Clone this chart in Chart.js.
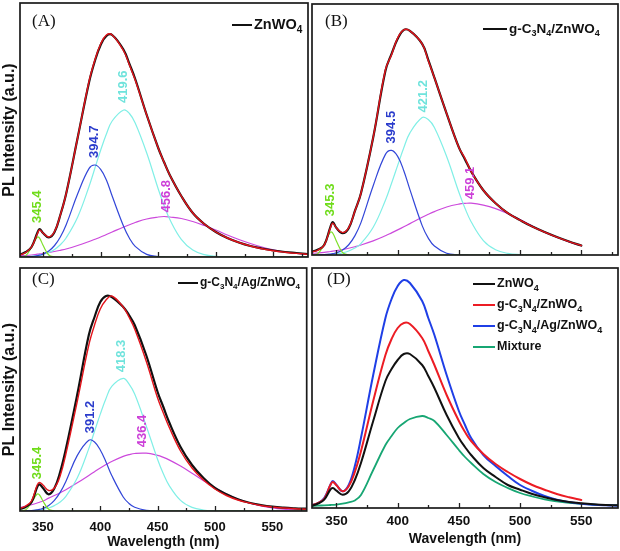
<!DOCTYPE html>
<html><head><meta charset="utf-8">
<script src="https://cdn.jsdelivr.net/npm/chart.js@4.4.1/dist/chart.umd.min.js"></script>
<style>
html,body{margin:0;padding:0;background:#fff;width:620px;height:551px;overflow:hidden}
.p{position:absolute}
canvas{display:block}
</style></head><body>
<div class="p" style="left:0;top:0;width:310px;height:262px"><canvas id="cA" width="310" height="262"></canvas></div>
<div class="p" style="left:310px;top:0;width:310px;height:262px"><canvas id="cB" width="310" height="262"></canvas></div>
<div class="p" style="left:0;top:262px;width:310px;height:289px"><canvas id="cC" width="310" height="289"></canvas></div>
<div class="p" style="left:310px;top:262px;width:310px;height:289px"><canvas id="cD" width="310" height="289"></canvas></div>
<script>
// ---------- data ----------
const wavelengths = [330,335,340,345,347,350,355,360,365,370,380,390,395,400,405,410,420,425,430,440,450,455,460,470,480,490,500,510,520,530,540,550,560,570,580];

// Panel A : ZnWO4
const aData = [2.5,5,10,24,28,24,19.5,25,42,63,119,175,196,212,221,222,207,193,178,142,109,95,82,61,44,33,25,19,14.5,11,8.5,6.5,5,4,3];
const aFit  = [2,4.5,10,23,27,24,20,25.5,42,63,119,176,197,213,222,222,206,192,177,142,109,95,82,61,44,33,25,19,14.5,11,8.3,6.3,4.8,3.6,2.7];
const aGreen = [0,1.4,9.8,20,18.8,11.8,2,0.2,0,0,0,0,0,0,0,0,0,0,0,0,0,0,0,0,0,0,0,0,0,0,0,0,0,0,0];
const aBlue = [0.1,0.2,0.5,1.3,1.8,2.9,6,11.5,20,32,63,88.6,92,87.7,77,61,30.5,18.8,10.6,2.6,0.4,0.1,0,0,0,0,0,0,0,0,0,0,0,0,0];
const aCyan = [0.2,0.4,0.75,1.4,1.8,2.6,4.5,7.6,12.3,19,39.8,70.8,88.8,106.7,123,136,147,143.5,134,104,68,51.7,37.7,17.7,7,2.4,0.7,0.2,0,0,0,0,0,0,0];
const aMag  = [1.2,1.5,2,2.8,3.1,3.5,4.5,5.5,6.7,8,11.5,15.5,17.7,20,22.5,25,30,32.3,34.5,38,40,40.5,40,38.5,35.5,31.5,27,22,17.5,13.5,10,7.2,5,3.5,2.3];
const peaksA = [345.4, 394.7, 419.6, 456.8];

// Panel B : g-C3N4/ZnWO4
const bData = [3.3,5.5,10,28,33,27,22,27,44,62,118,185,202,217,226,225,212,196,178,142,108,96,84,65,52,42,35,28.5,23,18,13.5,9.5,null,null,null];
const bFit  = [3,5,10,27,32,27,22.5,27.5,44,62,118,186,201,218,226,225,212,195,178,142,108,97,84,65,52,42,35,28.5,23,18,13.5,9.5,null,null,null];
const bGreen = [0,1.6,11,23,21.8,13.8,2.4,0.2,0,0,0,0,0,0,0,0,0,0,0,0,0,0,0,0,0,0,0,0,0,0,0,0,null,null,null];
const bBlue = [0,0.1,0.3,0.9,1.3,2.2,5,10.3,19.2,32.5,69.6,101,105,99,84.6,65.6,29.5,17,9,1.8,0.25,0.1,0,0,0,0,0,0,0,0,0,0,null,null,null];
const bCyan = [0.06,0.1,0.27,0.57,0.76,1.15,2.2,4,7,11.5,27.8,55,72,90,107.6,122.6,138,136,128,98.9,63,46.9,33.4,14.5,5.2,1.6,0.4,0.1,0,0,0,0,null,null,null];
const bMag  = [1.6,2.1,2.7,3.5,3.8,4.4,5.5,6.8,8.3,10,14.2,19.3,22.2,25.2,28.3,31.5,37.9,40.9,43.6,48.2,51.1,51.8,52,50,46.5,41.5,35.5,29,23,17.8,13.2,9.3,null,null,null];
const peaksB = [345.3, 394.5, 421.2, 459.1];

// Panel C : g-C3N4/Ag/ZnWO4
const cData = [2,4,8.7,24,26.7,23,16.7,22.7,39,62,117,176,194,209,215,214,204,196,186,156,119,104,89,64,46,33,23,16.7,11.7,8.3,6,4.3,3.3,2.7,2.3];
const cFit  = [2.5,5,10,26,28.5,26,20.5,23,35,57,110,166,186,202,211,215,204,194,182,150,113,98,84,60,43,31,22,15.5,11,8,5.5,4,3,2.3,1.8];
const cGreen = [0,1.2,8.3,17,16,10,1.7,0.2,0,0,0,0,0,0,0,0,0,0,0,0,0,0,0,0,0,0,0,0,0,0,0,0,0,0,0];
const cBlue = [0,0.15,0.42,1.1,1.55,2.6,5.5,10.6,18.6,29.6,55.6,70.8,69,61,49,35.5,14,7.6,3.7,0.7,0.1,0,0,0,0,0,0,0,0,0,0,0,0,0,0];
const cCyan = [0.1,0.2,0.4,0.8,1.1,1.6,3,5.4,9,14.7,33.2,62.4,79.7,96.9,112.5,124.6,132.7,127.1,116.9,85.3,51.5,37.2,25.7,10.6,3.6,1,0.25,0.05,0,0,0,0,0,0,0];
const cMag  = [3.5,4.8,6.3,8,8.8,10,12.9,15.5,18.3,21.3,28.2,35.6,39.3,43,46.4,49.5,54.6,56.3,57.5,57.8,55.6,53.6,51.1,44.9,37.7,30.3,23.2,17,11.9,8,5.1,3.1,1.8,1,0.5];
const peaksC = [345.4, 391.2, 418.3, 436.4];

// Panel D : comparison
const dZn  = [2.3,4.5,8.3,18.3,20,17.3,13.3,16.7,28,45,87,127,139,148,154,154,143,132,120,93,70,61,53,40,31,23,18.3,14,10.7,8,6,4.7,3.7,3,2.7];
const dCN  = [2.7,5,9.3,23,26,22.7,16.7,21.7,36,56.7,107,153,169,180,185,184,170,157,143,113,87,76,67,54,44,36,29,23,18.3,14,10.7,8,null,null,null];
const dAg  = [2.7,5,10,23,27,23,16.7,23,42,70,133,190,209,222,228,225,207,190,173,133,97,83,70,53,42,32,23,17,12,8.3,6,4.3,3.3,2.7,2.3];
const dMix = [2,2.3,2.7,3,3.1,3.3,4.3,5.7,7.5,13,38,63,72,80,85,89,92,90,87,73,58,51,45,34,26,20,15,11.5,8.7,6.7,5.2,4.1,3.4,3,2.7];
const legendD = ['ZnWO4','g-C3N4/ZnWO4','g-C3N4/Ag/ZnWO4','Mixture'];

const xTickValues = [350,375,400,425,450,475,500,525,550,575];
const xTickLabels = ['350','400','450','500','550'];
const yTitle = 'PL Intensity (a.u.)';
const xTitle = 'Wavelength (nm)';

// ---------- helpers ----------
const SANS = '"Liberation Sans", Arial, Helvetica, sans-serif';
const SERIF = '"Liberation Serif", "Times New Roman", serif';
const COL = {black:'#111111', red:'#e3141b', green:'#7ee02a', blue:'#3246d8', cyan:'#80efe6', mag:'#cc49dc',
             dRed:'#ec1c24', dBlue:'#1f3fe6', dGreen:'#17a673'};
const LABCOL = {green:'#6fdc1a', blue:'#2b3ccc', cyan:'#6fe3dc', mag:'#cc40d8'};

const series = arr => wavelengths.map((w,i) => ({x:w, y:arr[i]}));
const ds = (arr, color, width) => ({data: series(arr), borderColor: color, borderWidth: width, pointRadius: 0, fill:false, tension:0.4, spanGaps:false});

function chemRuns(text){
  const runs=[];
  for(let i=0;i<text.length;i++){
    const ch=text[i];
    const sub=/\d/.test(ch) && i>0 && /[A-Za-z]/.test(text[i-1]);
    const last=runs[runs.length-1];
    if(last && last.sub===sub) last.t+=ch; else runs.push({t:ch, sub});
  }
  return runs;
}
function drawChem(ctx, text, x, y, size, color){
  ctx.fillStyle=color; ctx.textAlign='left'; ctx.textBaseline='middle';
  let cx=x;
  chemRuns(text).forEach(r=>{
    if(r.sub){ ctx.font=`bold ${Math.round(size*0.7)}px ${SANS}`; ctx.fillText(r.t,cx,y+size*0.33); }
    else { ctx.font=`bold ${size}px ${SANS}`; ctx.fillText(r.t,cx,y); }
    cx+=ctx.measureText(r.t).width;
  });
}
const isMajor = v => xTickLabels.includes(String(Math.round(v)));

function panelPlugin(cfg){
  return {
    id:'panel'+cfg.tag,
    afterDatasetsDraw(chart){
      const {ctx, scales:{x,y}} = chart;
      ctx.save();
      (cfg.peaks||[]).forEach(p=>{
        const d = chart.data.datasets[p.anchor].data;
        let best=0;
        d.forEach(pt=>{ if(pt.y!=null && Math.abs(pt.x-p.wl)<=8 && pt.y>best) best=pt.y; });
        const px=x.getPixelForValue(p.wl), py=y.getPixelForValue(best)-p.gap;
        ctx.save(); ctx.translate(px,py); ctx.rotate(-Math.PI/2);
        ctx.font=`bold 13px ${SANS}`; ctx.fillStyle=p.color; ctx.textAlign='left'; ctx.textBaseline='middle';
        ctx.fillText(p.wl.toFixed(1),0,0); ctx.restore();
      });
      ctx.restore();
    },
    afterDraw(chart){
      const {ctx, chartArea:ca, scales:{x}} = chart;
      ctx.save();
      // inward tick marks
      ctx.strokeStyle='#222'; ctx.lineWidth=1.3;
      x.ticks.forEach(t=>{
        const px=Math.round(x.getPixelForValue(t.value))+0.5;
        const len = isMajor(t.value)?5:3;
        ctx.beginPath(); ctx.moveTo(px,ca.bottom); ctx.lineTo(px,ca.bottom-len); ctx.stroke();
      });
      // frame
      ctx.lineWidth=1.7; ctx.strokeStyle='#1a1a1a';
      ctx.strokeRect(ca.left, ca.top, ca.right-ca.left, ca.bottom-ca.top);
      // panel letter
      ctx.font=`17px ${SERIF}`; ctx.fillStyle='#111'; ctx.textAlign='left'; ctx.textBaseline='middle';
      ctx.fillText(cfg.letter, ca.left+cfg.letterPos[0], ca.top+cfg.letterPos[1]);
      // legend
      cfg.legend.forEach((it,i)=>{
        const lx=ca.left+cfg.legendPos[0], ly=ca.top+cfg.legendPos[1]+i*cfg.legendStep;
        ctx.strokeStyle=it.color; ctx.lineWidth=2;
        ctx.beginPath(); ctx.moveTo(lx,ly); ctx.lineTo(lx+cfg.legendLen,ly); ctx.stroke();
        drawChem(ctx, it.text, lx+cfg.legendLen+2, ly, cfg.legendSize, '#111');
      });
      ctx.restore();
    }
  };
}

function makeChart(id, cfg){
  const hasYTitle = !!cfg.yTitle;
  new Chart(document.getElementById(id), {
    type:'line',
    data:{datasets:cfg.datasets},
    options:{
      responsive:false, animation:false, devicePixelRatio:1,
      layout:{padding:cfg.padding},
      plugins:{legend:{display:false}, tooltip:{enabled:false}},
      elements:{point:{radius:0}, line:{borderJoinStyle:'round', borderCapStyle:'round'}},
      scales:{
        x:{type:'linear', min:330, max:580,
           afterBuildTicks:s=>{ s.ticks = xTickValues.map(v=>({value:v})); },
           grid:{display:false, drawTicks:false},
           border:{display:false},
           ticks:{display:cfg.xLabels, autoSkip:false, maxRotation:0, minRotation:0,
                  padding:cfg.tickPad||0, color:'#111',
                  font:{family:SANS, size:cfg.tickSize||12, weight:'bold'},
                  callback:(v)=> isMajor(v) ? String(Math.round(v)) : ''},
           title:{display:cfg.xLabels, text:xTitle, color:'#111',
                  font:{family:SANS, size:14, weight:'bold'}, padding:{top:0,bottom:cfg.titlePad||0}},
           afterFit:s=>{ s.height=cfg.xHeight; }},
        y:{type:'linear', min:0, max:cfg.yMax, display:hasYTitle,
           grid:{display:false, drawTicks:false}, border:{display:false},
           ticks:{display:false},
           title:{display:hasYTitle, text:yTitle, color:'#111',
                  font:{family:SANS, size:16, weight:'bold'}, padding:{top:0,bottom:0}},
           afterFit:s=>{ s.width=cfg.yWidth||0; }}
      }
    },
    plugins:[panelPlugin(cfg)]
  });
}

const fitSets = (data, fit, g, b, c, m) => [
  ds(fit, COL.red, 1.4), ds(data, COL.black, 2.2),
  ds(g, COL.green, 1.2), ds(b, COL.blue, 1.2), ds(c, COL.cyan, 1.2), ds(m, COL.mag, 1.2)];
const peakSpecs = (arr, gaps) => [
  {wl:arr[0], anchor:1, color:LABCOL.green, gap:gaps[0]},
  {wl:arr[1], anchor:3, color:LABCOL.blue, gap:gaps[1]},
  {wl:arr[2], anchor:4, color:LABCOL.cyan, gap:gaps[2]},
  {wl:arr[3], anchor:5, color:LABCOL.mag, gap:gaps[3]}];

makeChart('cA', {tag:'A', letter:'(A)', letterPos:[12,19],
  datasets:fitSets(aData,aFit,aGreen,aBlue,aCyan,aMag),
  peaks:peakSpecs(peaksA,[6,7,7,4]),
  legend:[{text:'ZnWO4', color:'#111'}], legendPos:[212,22], legendLen:20, legendStep:0, legendSize:14.5,
  padding:{top:3,right:2,left:0,bottom:0}, yWidth:20, xHeight:5, yTitle:true, xLabels:false, yMax:254});

makeChart('cB', {tag:'B', letter:'(B)', letterPos:[13,18],
  datasets:fitSets(bData,bFit,bGreen,bBlue,bCyan,bMag),
  peaks:peakSpecs(peaksB,[6,7,5,4]),
  legend:[{text:'g-C3N4/ZnWO4', color:'#111'}], legendPos:[171,25], legendLen:24, legendStep:0, legendSize:13.5,
  padding:{top:4,right:2,left:2,bottom:0}, xHeight:7, yTitle:false, xLabels:false, yMax:252});

makeChart('cC', {tag:'C', letter:'(C)', letterPos:[12,12],
  datasets:fitSets(cData,cFit,cGreen,cBlue,cCyan,cMag),
  peaks:peakSpecs(peaksC,[5,7,6,6]),
  legend:[{text:'g-C3N4/Ag/ZnWO4', color:'#111'}], legendPos:[158,15], legendLen:20, legendStep:0, legendSize:12,
  padding:{top:6,right:2,left:0,bottom:0}, yWidth:20, xHeight:40, yTitle:true, xLabels:true, yMax:243,
  tickPad:9, tickSize:13, titlePad:0});

makeChart('cD', {tag:'D', letter:'(D)', letterPos:[15,12],
  datasets:[ds(dZn,COL.black,2), ds(dCN,COL.dRed,2), ds(dAg,COL.dBlue,2), ds(dMix,COL.dGreen,1.8)],
  peaks:[],
  legend:[{text:legendD[0], color:'#111'},{text:legendD[1], color:COL.dRed},{text:legendD[2], color:COL.dBlue},{text:legendD[3], color:COL.dGreen}],
  legendPos:[161,16], legendLen:22, legendStep:21, legendSize:12.5,
  padding:{top:6,right:2,left:2,bottom:0}, xHeight:43, yTitle:false, xLabels:true, yMax:240,
  tickPad:5, tickSize:13.5, titlePad:3});
</script>
</body></html>
